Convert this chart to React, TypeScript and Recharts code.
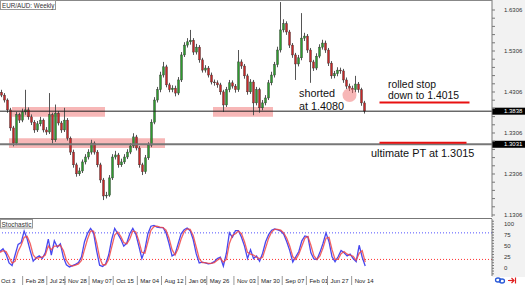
import {
  ComposedChart,
  Bar,
  Line,
  XAxis,
  YAxis,
  ReferenceLine,
  ReferenceArea,
  ReferenceDot,
} from 'recharts';

// weekly candles (oldest first)
const opens = [
  1.430, 1.423, 1.411, 1.387, 1.343, 1.306, 1.375, 1.362, 1.382, 1.387,
  1.370, 1.357, 1.338, 1.353, 1.362, 1.338, 1.333, 1.375, 1.314, 1.379,
  1.355, 1.338, 1.362, 1.318, 1.284, 1.253, 1.231, 1.238, 1.260, 1.272,
  1.284, 1.306, 1.284, 1.253, 1.216, 1.177, 1.179, 1.221, 1.272, 1.277,
  1.253, 1.260, 1.272, 1.284, 1.299, 1.321, 1.294, 1.253, 1.236, 1.270,
  1.301, 1.357, 1.411, 1.436, 1.472, 1.492, 1.448, 1.436, 1.440, 1.428,
  1.460, 1.521, 1.545, 1.553, 1.557, 1.528, 1.540, 1.509, 1.484, 1.489,
  1.472, 1.455, 1.453, 1.448, 1.431, 1.399, 1.436, 1.453, 1.445, 1.436,
  1.504, 1.494, 1.470, 1.431, 1.455, 1.404, 1.436, 1.392, 1.404, 1.416,
  1.453, 1.472, 1.497, 1.533, 1.582, 1.597, 1.577, 1.545, 1.521, 1.499,
  1.514, 1.562, 1.567, 1.533, 1.504, 1.489, 1.518, 1.540, 1.550, 1.533,
  1.501, 1.470, 1.475, 1.484, 1.482, 1.460, 1.445, 1.440, 1.436, 1.450,
  1.436, 1.404,
];
const closes = [
  1.423, 1.411, 1.387, 1.343, 1.306, 1.375, 1.362, 1.382, 1.387, 1.370,
  1.357, 1.338, 1.353, 1.362, 1.338, 1.333, 1.375, 1.314, 1.379, 1.355,
  1.338, 1.362, 1.318, 1.284, 1.253, 1.231, 1.238, 1.260, 1.272, 1.284,
  1.306, 1.284, 1.253, 1.216, 1.177, 1.179, 1.221, 1.272, 1.277, 1.253,
  1.260, 1.272, 1.284, 1.299, 1.321, 1.294, 1.253, 1.236, 1.270, 1.301,
  1.357, 1.411, 1.436, 1.472, 1.492, 1.448, 1.436, 1.440, 1.428, 1.460,
  1.521, 1.545, 1.553, 1.557, 1.528, 1.540, 1.509, 1.484, 1.489, 1.472,
  1.455, 1.453, 1.448, 1.431, 1.399, 1.436, 1.453, 1.445, 1.436, 1.504,
  1.494, 1.470, 1.431, 1.455, 1.404, 1.436, 1.392, 1.404, 1.416, 1.453,
  1.472, 1.497, 1.533, 1.582, 1.597, 1.577, 1.545, 1.521, 1.499, 1.514,
  1.562, 1.567, 1.533, 1.504, 1.489, 1.518, 1.540, 1.550, 1.533, 1.501,
  1.470, 1.475, 1.484, 1.482, 1.460, 1.445, 1.440, 1.436, 1.450, 1.436,
  1.404, 1.384,
];
const highs = [
  1.436, 1.428, 1.415, 1.392, 1.348, 1.382, 1.380, 1.390, 1.436, 1.393,
  1.376, 1.362, 1.360, 1.370, 1.366, 1.345, 1.428, 1.380, 1.400, 1.384,
  1.360, 1.392, 1.367, 1.322, 1.290, 1.258, 1.246, 1.266, 1.279, 1.291,
  1.314, 1.310, 1.289, 1.258, 1.221, 1.187, 1.228, 1.279, 1.287, 1.282,
  1.268, 1.279, 1.291, 1.306, 1.330, 1.326, 1.299, 1.258, 1.277, 1.308,
  1.364, 1.418, 1.443, 1.480, 1.504, 1.497, 1.453, 1.447, 1.446, 1.467,
  1.528, 1.552, 1.562, 1.582, 1.562, 1.548, 1.545, 1.514, 1.496, 1.494,
  1.478, 1.461, 1.459, 1.453, 1.436, 1.443, 1.460, 1.459, 1.450, 1.533,
  1.510, 1.499, 1.475, 1.462, 1.460, 1.443, 1.441, 1.411, 1.423, 1.460,
  1.480, 1.504, 1.541, 1.650, 1.608, 1.603, 1.582, 1.550, 1.526, 1.521,
  1.623, 1.575, 1.572, 1.538, 1.509, 1.525, 1.547, 1.558, 1.556, 1.538,
  1.506, 1.482, 1.491, 1.490, 1.487, 1.466, 1.451, 1.446, 1.470, 1.455,
  1.441, 1.409,
];
const lows = [
  1.418, 1.405, 1.380, 1.336, 1.298, 1.301, 1.355, 1.357, 1.375, 1.363,
  1.350, 1.331, 1.333, 1.347, 1.332, 1.326, 1.328, 1.305, 1.309, 1.349,
  1.331, 1.333, 1.312, 1.277, 1.246, 1.224, 1.226, 1.233, 1.254, 1.266,
  1.278, 1.278, 1.247, 1.209, 1.167, 1.171, 1.175, 1.216, 1.266, 1.246,
  1.248, 1.255, 1.267, 1.279, 1.294, 1.288, 1.246, 1.228, 1.231, 1.265,
  1.296, 1.352, 1.405, 1.430, 1.466, 1.442, 1.430, 1.430, 1.420, 1.423,
  1.455, 1.516, 1.539, 1.546, 1.521, 1.522, 1.502, 1.478, 1.478, 1.466,
  1.449, 1.446, 1.441, 1.424, 1.382, 1.394, 1.430, 1.439, 1.429, 1.431,
  1.487, 1.463, 1.424, 1.426, 1.374, 1.398, 1.380, 1.386, 1.398, 1.411,
  1.447, 1.466, 1.491, 1.527, 1.576, 1.570, 1.538, 1.514, 1.460, 1.493,
  1.508, 1.555, 1.526, 1.453, 1.482, 1.484, 1.513, 1.534, 1.526, 1.494,
  1.463, 1.464, 1.469, 1.475, 1.453, 1.438, 1.433, 1.428, 1.430, 1.429,
  1.397, 1.378,
];

// stochastic main (%K) and signal (%D)
const stochK = [
  38, 44, 32, 12, 6, 30, 54, 58, 84, 66,
  40, 16, 24, 28, 22, 35, 66, 30, 62, 48,
  55, 25, 8, 3, 6, 9, 13, 26, 60, 79,
  90, 80, 40, 7, 4, 10, 30, 65, 90, 78,
  66, 50, 57, 78, 90, 77, 50, 22, 42, 78,
  95, 97, 93, 92, 92, 80, 56, 28, 32, 55,
  78, 87, 91, 85, 65, 33, 12, 14, 12, 10,
  11, 15, 22, 25, 5, 34, 80, 70, 85, 85,
  70, 50, 22, 42, 22, 28, 16, 34, 60, 76,
  86, 89, 87, 84, 77, 60, 40, 14, 26, 38,
  62, 73, 71, 35, 21, 20, 36, 56, 80, 60,
  26, 15, 26, 40, 35, 28, 32, 22, 15, 52,
  25, 5,
];
const stochD = [
  36, 40, 38, 25, 12, 16, 38, 52, 70, 72,
  56, 30, 22, 24, 25, 30, 50, 42, 50, 50,
  52, 40, 18, 8, 5, 7, 10, 18, 42, 66,
  84, 84, 58, 24, 8, 8, 20, 48, 75, 82,
  72, 58, 55, 66, 84, 82, 62, 36, 34, 60,
  86, 94, 95, 93, 92, 86, 68, 42, 30, 44,
  66, 82, 89, 88, 74, 48, 22, 13, 13, 11,
  11, 13, 18, 23, 14, 20, 56, 74, 78, 84,
  78, 60, 36, 32, 30, 25, 22, 25, 46, 68,
  82, 88, 88, 86, 80, 68, 50, 26, 20, 32,
  50, 68, 72, 52, 28, 20, 28, 46, 68, 70,
  42, 20, 20, 33, 38, 32, 30, 27, 18, 34,
  40, 14,
];

const dateTicks = [0, 8, 16, 22, 30, 38, 46, 54, 62, 69, 78, 86, 94, 102, 109, 117];
const dateLabels = [
  'Oct 3', 'Feb 28', 'Jul 25', 'Nov 28', 'May 07', 'Oct 15', 'Mar 04', 'Aug 12',
  'Jan 06', 'May 26', 'Nov 03', 'Mar 30', 'Sep 07', 'Feb 01', 'Jun 27', 'Nov 14',
];

const priceTicks = [
  1.1306, 1.1506, 1.1706, 1.1906, 1.2106, 1.2306, 1.2506, 1.2706, 1.2906,
  1.3106, 1.3306, 1.3506, 1.3706, 1.3906, 1.4106, 1.4306, 1.4506, 1.4706,
  1.4906, 1.5106, 1.5306, 1.5506, 1.5706, 1.5906, 1.6106, 1.6306,
];
const priceLabels = [1.1306, 1.2306, 1.3306, 1.4306, 1.5306, 1.6306];
const stochTicks = [
  -12.5, -6.25, 0, 6.25, 12.5, 18.75, 25, 31.25, 37.5, 43.75, 50, 56.25,
  62.5, 68.75, 75, 81.25, 87.5, 93.75, 100, 106.25,
];
const stochLabels = [0, 25, 50, 75, 100];

const bidPrice = 1.3838;
const lowerLevel = 1.3031;
const stopLine = 1.405;
const targetLine = 1.307;
const zones = [
  { from: 4, to: 34, lo: 1.370, hi: 1.394 },
  { from: 3, to: 54, lo: 1.294, hi: 1.318 },
  { from: 71, to: 90, lo: 1.370, hi: 1.394 },
];
const shortEntry = { idx: 116, price: 1.423 };

const SLOTS = 164;
const FONT = '"Liberation Sans", Arial, sans-serif';

const rows = Array.from({ length: SLOTS }, (_, i) =>
  i < closes.length
    ? {
        idx: i,
        open: opens[i],
        close: closes[i],
        high: highs[i],
        low: lows[i],
        k: stochK[i],
        d: stochD[i],
      }
    : { idx: i },
);

function Candle(props: any) {
  const { x, y, width, height, payload } = props;
  if (!payload || payload.open == null) return null;
  const { open, close, high, low } = payload;
  const yHi = Math.min(y, y + height);
  const yLo = Math.max(y, y + height);
  const toY = (p: number) => yHi + ((high - p) / (high - low)) * (yLo - yHi);
  const cx = x + width / 2;
  const yo = toY(open);
  const yc = toY(close);
  const top = Math.min(yo, yc);
  const h = Math.max(Math.abs(yc - yo), 0.8);
  return (
    <g>
      <line x1={cx} x2={cx} y1={yHi} y2={yLo} stroke="#555" strokeWidth={1} />
      <rect
        x={x + 0.5}
        y={top}
        width={Math.max(width - 1, 1)}
        height={h}
        fill={close >= open ? '#2e9a2e' : '#c62828'}
        stroke="#333"
        strokeWidth={0.4}
      />
    </g>
  );
}

function PriceTick({ x, y, payload }: any) {
  const v = payload.value;
  if (!priceLabels.some((p) => Math.abs(p - v) < 1e-6)) return null;
  return (
    <text x={x} y={y + 2} fontSize={6} fill="#333" fontFamily={FONT}>
      {v.toFixed(4)}
    </text>
  );
}

function StochTick({ x, y, payload }: any) {
  const v = payload.value;
  if (!stochLabels.includes(v)) return null;
  return (
    <text x={x} y={y + 2} fontSize={6} fill="#333" fontFamily={FONT}>
      {v}
    </text>
  );
}

function DateTick({ x, y, payload }: any) {
  const pos = dateTicks.indexOf(payload.value);
  if (pos < 0) return null;
  return (
    <g>
      {pos > 0 && <line x1={x - 1.5} x2={x - 1.5} y1={y} y2={y + 9} stroke="#999" />}
      <text x={pos > 0 ? x + 1.5 : 1} y={y + 7} fontSize={6} fill="#222" fontFamily={FONT}>
        {dateLabels[pos]}
      </text>
    </g>
  );
}

function PriceBox(props: any) {
  const { viewBox, text } = props;
  if (!viewBox) return null;
  const right = viewBox.x + viewBox.width;
  const y = viewBox.y;
  return (
    <g>
      <rect x={right} y={y - 3.5} width={33} height={7} fill="#000" />
      <text x={right + 12} y={y + 2} fontSize={6} fill="#fff" fontFamily={FONT}>
        {text}
      </text>
    </g>
  );
}

export default function App() {
  return (
    <div style={{ position: 'absolute', left: 0, top: 0, width: 525, height: 285, background: '#fff', overflow: 'hidden' }}>
      <div style={{ position: 'absolute', left: 492, top: 0, width: 33, height: 277, background: '#f2f2f2' }} />

      <div style={{ position: 'absolute', left: 0, top: 0 }}>
        <ComposedChart
          width={525}
          height={217}
          data={rows}
          margin={{ top: 0, right: 0, left: 0, bottom: 0 }}
          barCategoryGap={0}
        >
          <XAxis dataKey="idx" hide />
          <YAxis
            orientation="right"
            width={33}
            domain={[1.1257, 1.655]}
            allowDataOverflow
            ticks={priceTicks}
            interval={0}
            tickSize={3}
            tickMargin={9}
            axisLine={{ stroke: '#777' }}
            tickLine={{ stroke: '#777' }}
            tick={<PriceTick />}
          />
          {zones.map((z, i) => (
            <ReferenceArea
              key={`zone-${i}`}
              x1={z.from}
              x2={z.to}
              y1={z.lo}
              y2={z.hi}
              fill="#f07070"
              fillOpacity={0.5}
              stroke="none"
            />
          ))}
          <ReferenceDot
            x={shortEntry.idx}
            y={shortEntry.price}
            r={7}
            fill="#f07070"
            fillOpacity={0.5}
            stroke="none"
          />
          <Bar
            dataKey={(d: any) => (d.high == null ? null : [d.low, d.high])}
            shape={<Candle />}
            isAnimationActive={false}
          />
          <ReferenceLine
            y={bidPrice}
            stroke="#222"
            strokeWidth={1}
            label={(p: any) => <PriceBox viewBox={p.viewBox} text="1.3838" />}
          />
          <ReferenceLine
            y={lowerLevel}
            stroke="#777"
            strokeWidth={2}
            label={(p: any) => <PriceBox viewBox={p.viewBox} text="1.3031" />}
          />
          <ReferenceLine
            segment={[{ x: 126, y: stopLine }, { x: 156, y: stopLine }]}
            stroke="#e81010"
            strokeWidth={2}
          />
          <ReferenceLine
            segment={[{ x: 126, y: targetLine }, { x: 155, y: targetLine }]}
            stroke="#e81010"
            strokeWidth={2}
          />
        </ComposedChart>
      </div>

      <div style={{ position: 'absolute', left: 0, top: 218, width: 492, height: 1, background: '#777' }} />
      <div style={{ position: 'absolute', left: 0, top: 219 }}>
        <ComposedChart
          width={525}
          height={66}
          data={rows}
          margin={{ top: 0, right: 0, left: 0, bottom: 0 }}
        >
          <XAxis
            dataKey="idx"
            ticks={dateTicks}
            interval={0}
            height={9}
            tickSize={0}
            tickMargin={0}
            axisLine={false}
            tickLine={false}
            tick={<DateTick />}
          />
          <YAxis
            orientation="right"
            width={33}
            domain={[-17.4, 111.3]}
            allowDataOverflow
            ticks={stochTicks}
            interval={0}
            tickSize={2}
            tickMargin={10}
            axisLine={{ stroke: '#777' }}
            tickLine={{ stroke: '#777' }}
            tick={<StochTick />}
          />
          <ReferenceLine y={80} stroke="#5050ff" strokeDasharray="1 2" />
          <ReferenceLine y={20} stroke="#ff3030" strokeDasharray="1 2" />
          <Line
            dataKey="k"
            stroke="#4848f0"
            strokeWidth={1.3}
            dot={false}
            isAnimationActive={false}
          />
          <Line
            dataKey="d"
            stroke="#f04848"
            strokeWidth={1.3}
            strokeOpacity={0.85}
            dot={false}
            isAnimationActive={false}
          />
        </ComposedChart>
      </div>

      <svg
        width={525}
        height={285}
        style={{ position: 'absolute', left: 0, top: 0, pointerEvents: 'none' }}
        fontFamily={FONT}
      >
        <line x1={0} x2={492} y1={0.5} y2={0.5} stroke="#888" />
        <rect x={0.5} y={0.5} width={55} height={9} fill="#fff" stroke="#999" />
        <text x={2} y={7.5} fontSize={6.3} fill="#333">EUR/AUD: Weekly</text>
        <rect x={0.5} y={219.5} width={32} height={8.5} fill="#fff" stroke="#999" />
        <text x={1.5} y={226.5} fontSize={6.5} fill="#333">Stochastic</text>

        <text x={299} y={97} fontSize={10.8} fill="#111">shorted</text>
        <text x={299} y={109.5} fontSize={10.8} fill="#111">at 1.4080</text>
        <text x={388} y={87.5} fontSize={10.4} fill="#111">rolled stop</text>
        <text x={388} y={99.3} fontSize={10.4} fill="#111">down to 1.4015</text>
        <text x={371} y={157} fontSize={10.9} fill="#111">ultimate PT at 1.3015</text>

        <ellipse cx={498} cy={280} rx={2.5} ry={2} fill="none" stroke="#2a5ad8" strokeWidth={1.3} />
        <ellipse cx={502} cy={281} rx={2.5} ry={2} fill="none" stroke="#2a5ad8" strokeWidth={1.3} />
        <line x1={508} x2={514} y1={280.5} y2={280.5} stroke="#e02020" strokeWidth={1.2} />
        <polyline points="511.5,278 514,280.5 511.5,283" fill="none" stroke="#e02020" strokeWidth={1.2} />
        <line x1={515.5} x2={515.5} y1={277.5} y2={283.5} stroke="#e02020" strokeWidth={1.2} />
      </svg>
    </div>
  );
}
